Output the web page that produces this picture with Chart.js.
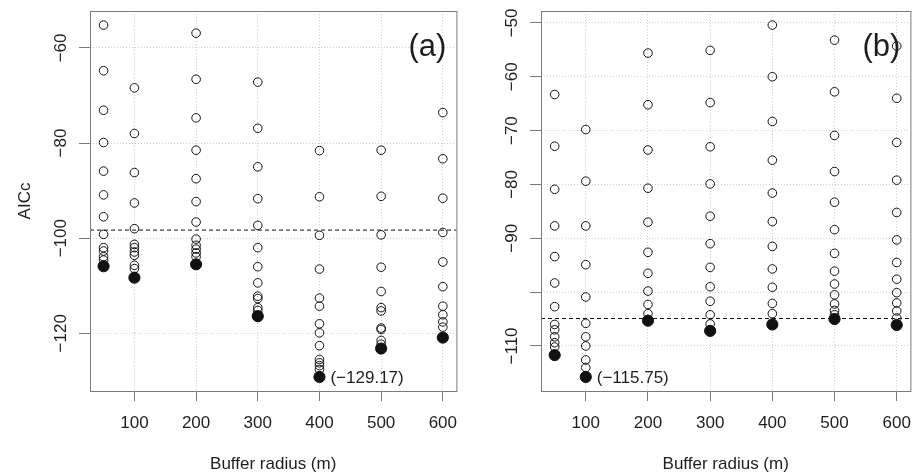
<!DOCTYPE html>
<html>
<head>
<meta charset="utf-8">
<script src="https://cdn.jsdelivr.net/npm/chart.js@4"></script>
<style>
  body { margin: 0; background: #fff; }
  .panel { position: absolute; top: 0; }
  #wa { left: 0; }
  #wb { left: 462px; }
</style>
</head>
<body>
<div class="panel" id="wa"><canvas id="ca" width="463" height="476"></canvas></div>
<div class="panel" id="wb"><canvas id="cb" width="455" height="476"></canvas></div>
<script>
// buffer radii (m)
const radii = [50, 100, 200, 300, 400, 500, 600];
const xTicks = [100, 200, 300, 400, 500, 600];

// panel (a) - candidate model AICc per radius (open circles)
const a050 = [-55.2, -64.8, -73.1, -79.9, -85.9, -90.9, -95.5, -99.2, -102.0, -102.7, -103.9, -104.6];
const a100 = [-68.4, -78.0, -86.2, -92.6, -98.0, -101.3, -102.0, -102.9, -103.6, -105.7, -106.4];
const a200 = [-56.9, -66.6, -74.7, -81.5, -87.5, -92.3, -96.6, -100.2, -101.5, -102.3, -103.1, -103.9];
const a300 = [-67.2, -76.9, -85.0, -91.7, -97.3, -102.0, -106.0, -109.4, -112.2, -112.7, -114.6, -115.2];
const a400 = [-81.6, -91.3, -99.4, -106.5, -112.6, -114.3, -118.0, -119.9, -122.6, -125.5, -126.2, -126.8, -127.6];
const a500 = [-81.5, -91.2, -99.3, -106.1, -111.2, -114.6, -115.3, -118.9, -119.2, -121.5, -122.3];
const a600 = [-73.6, -83.3, -91.6, -98.8, -105.0, -110.2, -114.3, -116.1, -117.6, -118.7];
// best model per radius (filled)
const bestA = [-105.9, -108.3, -105.5, -116.4, -129.17, -123.2, -120.9];
const refA = -98.3;
const yTicksA = [-60, -80, -100, -120];
const yLabelsA = ['\u221260', '\u221280', '\u2212100', '\u2212120'];

// panel (b)
const b050 = [-63.3, -72.9, -80.9, -87.7, -93.4, -98.3, -102.7, -106.0, -107.0, -108.3, -109.4, -110.2];
const b100 = [-69.8, -79.4, -87.7, -94.9, -100.9, -105.8, -108.3, -110.0, -112.6, -114.0];
const b200 = [-55.6, -65.2, -73.6, -80.7, -87.0, -92.6, -96.5, -99.8, -102.3, -104.0];
const b300 = [-55.1, -64.8, -73.0, -79.9, -85.9, -91.0, -95.4, -99.0, -101.7, -104.2, -105.9];
const b400 = [-50.4, -60.0, -68.3, -75.5, -81.6, -86.9, -91.5, -95.7, -99.1, -102.1, -104.0];
const b500 = [-53.2, -62.8, -70.9, -77.6, -83.3, -88.4, -92.8, -96.1, -98.5, -100.5, -102.2, -103.4, -104.2];
const b600 = [-54.3, -64.0, -72.2, -79.2, -85.2, -90.3, -94.5, -97.6, -100.1, -102.0, -103.5, -104.8];
const bestB = [-111.7, -115.75, -105.3, -107.2, -106.0, -105.0, -106.1];
const refB = -104.9;
const yTicksB = [-50, -60, -70, -80, -90, -100, -110];
const yLabelsB = ['\u221250', '\u221260', '\u221270', '\u221280', '\u221290', '', '\u2212110'];

const FONT = "'Liberation Sans', Arial, sans-serif";
const INK = '#1e1e1e';
const AXIS = '#7a7a7a';

// R style range: data range extended by 4% each side
function rRange(vals) {
    const lo = Math.min(...vals), hi = Math.max(...vals);
    const pad = (hi - lo) * 0.04;
    return [lo - pad, hi + pad];
}

function makePanel(id, cols, best, ref, yTicks, yLabels, tag, yAxisW, rightPad, showYTitle) {
    const open = [];
    cols.forEach((col, i) => col.forEach(v => open.push({ x: radii[i], y: v })));
    const filled = best.map((v, i) => ({ x: radii[i], y: v }));
    const allY = open.map(p => p.y).concat(best);
    const [ymin, ymax] = rRange(allY);
    const [xmin, xmax] = rRange(radii);

    const bestIdx = best.indexOf(Math.min(...best));

    const decor = {
        id: 'decor',
        beforeDatasetsDraw(chart) {
            const { ctx, chartArea: ca, scales } = chart;
            const y = scales.y.getPixelForValue(ref);
            ctx.save();
            ctx.strokeStyle = '#111';
            ctx.lineWidth = 1;
            ctx.setLineDash([4, 3]);
            ctx.beginPath();
            ctx.moveTo(ca.left, y);
            ctx.lineTo(ca.right, y);
            ctx.stroke();
            ctx.restore();
        },
        afterDraw(chart) {
            const { ctx, chartArea: ca, scales } = chart;
            ctx.save();
            // box
            ctx.strokeStyle = AXIS;
            ctx.lineWidth = 1;
            ctx.strokeRect(ca.left + 0.5, ca.top + 0.5, ca.right - ca.left, ca.bottom - ca.top);

            ctx.fillStyle = INK;
            ctx.font = '17px ' + FONT;
            ctx.textAlign = 'center';
            ctx.textBaseline = 'middle';
            // x tick labels
            xTicks.forEach(v => {
                ctx.fillText(String(v), scales.x.getPixelForValue(v), ca.bottom + 32);
            });
            // rotated y tick labels
            yTicks.forEach((v, i) => {
                if (!yLabels[i]) return;
                const py = scales.y.getPixelForValue(v);
                ctx.save();
                ctx.translate(ca.left - 29, py);
                ctx.rotate(-Math.PI / 2);
                ctx.fillText(yLabels[i], 0, 0);
                ctx.restore();
            });
            if (showYTitle) {
                ctx.save();
                ctx.translate(ca.left - 65, (ca.top + ca.bottom) / 2);
                ctx.rotate(-Math.PI / 2);
                ctx.fillText('AICc', 0, 0);
                ctx.restore();
            }
            // x title
            ctx.fillText('Buffer radius (m)', (ca.left + ca.right) / 2, 464);

            // annotation of the lowest AICc
            const bx = scales.x.getPixelForValue(radii[bestIdx]);
            const by = scales.y.getPixelForValue(best[bestIdx]);
            ctx.textAlign = 'left';
            ctx.fillText('(' + best[bestIdx].toFixed(2).replace('-', '\u2212') + ')', bx + 11, by + 1);

            // panel tag
            ctx.font = '31px ' + FONT;
            ctx.textAlign = 'right';
            ctx.fillText(tag, ca.right - 10, ca.top + 36);
            ctx.restore();
        }
    };

    return new Chart(document.getElementById(id), {
        type: 'scatter',
        data: {
            datasets: [
                {
                    data: filled,
                    order: 0,
                    pointRadius: 5.6,
                    pointBackgroundColor: '#111',
                    pointBorderColor: '#111',
                    pointBorderWidth: 1
                },
                {
                    data: open,
                    order: 1,
                    pointRadius: 4.3,
                    pointBackgroundColor: 'rgba(0,0,0,0)',
                    pointBorderColor: '#111',
                    pointBorderWidth: 1
                }
            ]
        },
        options: {
            responsive: false,
            animation: false,
            devicePixelRatio: 1,
            layout: { padding: { top: 11, right: rightPad, left: 0, bottom: 0 } },
            plugins: { legend: { display: false }, tooltip: { enabled: false } },
            scales: {
                x: {
                    type: 'linear',
                    min: xmin,
                    max: xmax,
                    afterBuildTicks: s => { s.ticks = xTicks.map(v => ({ value: v })); },
                    afterFit: s => { s.height = 85; },
                    ticks: { display: false },
                    grid: { color: '#cfcfcf', tickColor: AXIS, tickLength: 10 },
                    border: { display: false, dash: [1, 2] }
                },
                y: {
                    type: 'linear',
                    min: ymin,
                    max: ymax,
                    afterBuildTicks: s => { s.ticks = yTicks.map(v => ({ value: v })); },
                    afterFit: s => { s.width = yAxisW; },
                    ticks: { display: false },
                    grid: { color: '#cfcfcf', tickColor: AXIS, tickLength: 11 },
                    border: { display: false, dash: [1, 2] }
                }
            }
        },
        plugins: [decor]
    });
}

// chart.js keeps ~3px on the right, so the padding is trimmed by that
makePanel('ca', [a050, a100, a200, a300, a400, a500, a600], bestA, refA, yTicksA, yLabelsA, '(a)', 90, 0, true);
makePanel('cb', [b050, b100, b200, b300, b400, b500, b600], bestB, refB, yTicksB, yLabelsB, '(b)', 79, 3, false);
</script>
</body>
</html>
